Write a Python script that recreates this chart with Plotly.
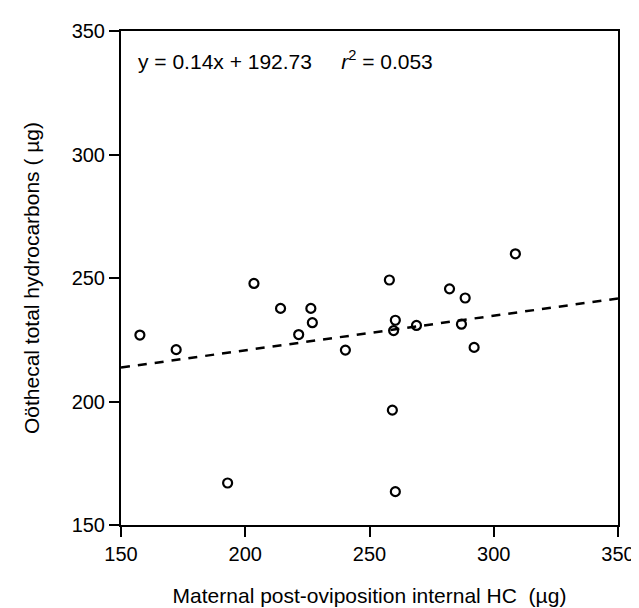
import plotly.graph_objects as go

# Maternal post-oviposition internal HC (µg)
maternal_hc = [157.6, 172.2, 192.9, 203.5, 214.2, 221.5, 226.4, 227.0, 240.3, 258.0,
               259.2, 259.7, 260.4, 260.4, 268.9, 282.2, 287.0, 288.5, 292.1, 308.7]
# Oöthecal total hydrocarbons (µg)
oothecal_hc = [226.9, 221.0, 167.0, 247.8, 237.7, 227.1, 237.7, 231.9, 220.8, 249.2,
               196.5, 228.7, 232.9, 163.5, 230.8, 245.6, 231.3, 241.9, 221.9, 259.8]

slope = 0.14
intercept = 192.73
r_squared = 0.053
fit_x = [150, 350]
fit_y = [slope * v + intercept for v in fit_x]

tick_vals = [150, 200, 250, 300, 350]

font_family = "Liberation Sans, Arial, Helvetica, sans-serif"

fig = go.Figure()
fig.add_trace(go.Scatter(
    x=fit_x, y=fit_y, mode="lines",
    line=dict(color="black", width=2.5, dash="9px,8px"),
    hoverinfo="skip", showlegend=False,
))
fig.add_trace(go.Scatter(
    x=maternal_hc, y=oothecal_hc, mode="markers",
    marker=dict(symbol="circle-open", size=9, color="black", line=dict(width=2.2)),
    showlegend=False,
))

axis_common = dict(
    showline=True, linecolor="black", linewidth=2, mirror=True,
    ticks="outside", ticklen=10, tickwidth=2, tickcolor="black",
    showgrid=False, zeroline=False,
    tickfont=dict(family=font_family, size=20, color="black"),
    tickvals=tick_vals,
)

fig.update_layout(
    width=639, height=608,
    margin=dict(l=113, r=18, t=16, b=85),
    plot_bgcolor="white", paper_bgcolor="white",
    font=dict(family=font_family, size=20, color="black"),
    xaxis=dict(range=[150, 350], title=dict(text="Maternal post-oviposition internal HC  (µg)",
               font=dict(size=21), standoff=24), **axis_common),
    yaxis=dict(range=[150, 350], title=dict(text="Oöthecal total hydrocarbons ( µg)",
               font=dict(size=21), standoff=26), **axis_common),
    annotations=[dict(
        x=0.03, y=0.941, xref="paper", yref="paper", xanchor="left", yanchor="middle",
        text=f"y = {slope}x + {intercept}&nbsp;&nbsp;&nbsp;&nbsp;&nbsp;<i>r</i><sup>2</sup> = {r_squared}",
        showarrow=False, font=dict(size=21, family=font_family, color="black"),
    )],
)

fig.write_html("out.html")
